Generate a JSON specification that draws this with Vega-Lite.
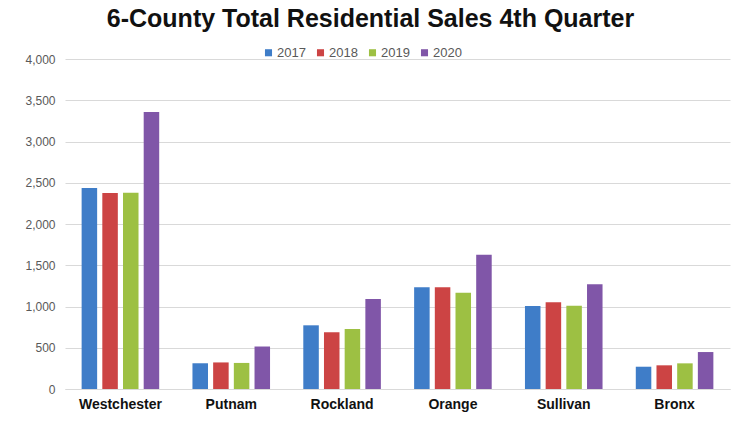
{
  "$schema": "https://vega.github.io/schema/vega-lite/v6.json",
  "width": 665,
  "height": 330,
  "autosize": {"type": "none"},
  "padding": {"left": 65, "top": 59, "right": 9, "bottom": 33},
  "background": "white",
  "title": {
    "text": "6-County Total Residential Sales 4th Quarter",
    "font": "Liberation Sans",
    "fontSize": 25,
    "fontWeight": "bold",
    "color": "#111111",
    "anchor": "middle",
    "dx": -27,
    "offset": 14
  },
  "data": {
    "values": [
      {"county": "Westchester", "year": "2017", "sales": 2436},
      {"county": "Westchester", "year": "2018", "sales": 2376},
      {"county": "Westchester", "year": "2019", "sales": 2378},
      {"county": "Westchester", "year": "2020", "sales": 3358},
      {"county": "Putnam", "year": "2017", "sales": 312},
      {"county": "Putnam", "year": "2018", "sales": 322},
      {"county": "Putnam", "year": "2019", "sales": 316},
      {"county": "Putnam", "year": "2020", "sales": 515},
      {"county": "Rockland", "year": "2017", "sales": 772},
      {"county": "Rockland", "year": "2018", "sales": 687},
      {"county": "Rockland", "year": "2019", "sales": 727},
      {"county": "Rockland", "year": "2020", "sales": 1091},
      {"county": "Orange", "year": "2017", "sales": 1233},
      {"county": "Orange", "year": "2018", "sales": 1233},
      {"county": "Orange", "year": "2019", "sales": 1167},
      {"county": "Orange", "year": "2020", "sales": 1628},
      {"county": "Sullivan", "year": "2017", "sales": 1006},
      {"county": "Sullivan", "year": "2018", "sales": 1051},
      {"county": "Sullivan", "year": "2019", "sales": 1010},
      {"county": "Sullivan", "year": "2020", "sales": 1269},
      {"county": "Bronx", "year": "2017", "sales": 270},
      {"county": "Bronx", "year": "2018", "sales": 287},
      {"county": "Bronx", "year": "2019", "sales": 311},
      {"county": "Bronx", "year": "2020", "sales": 448}
    ]
  },
  "mark": {"type": "bar"},
  "encoding": {
    "x": {
      "field": "county",
      "type": "nominal",
      "sort": ["Westchester", "Putnam", "Rockland", "Orange", "Sullivan", "Bronx"],
      "scale": {"paddingInner": 0.3, "paddingOuter": 0.15},
      "axis": {
        "title": null,
        "labelAngle": 0,
        "labelFont": "Liberation Sans",
        "labelFontSize": 14,
        "labelFontWeight": "bold",
        "labelColor": "#111111",
        "labelPadding": 8,
        "ticks": false,
        "domainColor": "#D9D9D9",
        "domainWidth": 1
      }
    },
    "xOffset": {"field": "year", "type": "nominal", "scale": {"paddingInner": 0.25}},
    "y": {
      "field": "sales",
      "type": "quantitative",
      "scale": {"domain": [0, 4000]},
      "axis": {
        "title": null,
        "values": [0, 500, 1000, 1500, 2000, 2500, 3000, 3500, 4000],
        "format": ",.0f",
        "labelFont": "Liberation Sans",
        "labelFontSize": 12,
        "labelColor": "#595959",
        "labelPadding": 10,
        "ticks": false,
        "domain": false,
        "gridColor": "#D9D9D9",
        "gridWidth": 1
      }
    },
    "color": {
      "field": "year",
      "type": "nominal",
      "scale": {
        "domain": ["2017", "2018", "2019", "2020"],
        "range": ["#3F7DC8", "#CC4444", "#9DC043", "#8056A8"]
      },
      "legend": {
        "title": null,
        "orient": "none",
        "direction": "horizontal",
        "legendX": 197,
        "legendY": -13,
        "symbolType": "square",
        "symbolSize": 50,
        "labelFont": "Liberation Sans",
        "labelFontSize": 13,
        "labelColor": "#595959",
        "labelOffset": 2,
        "columnPadding": 8
      }
    }
  },
  "config": {"view": {"stroke": null}}
}
